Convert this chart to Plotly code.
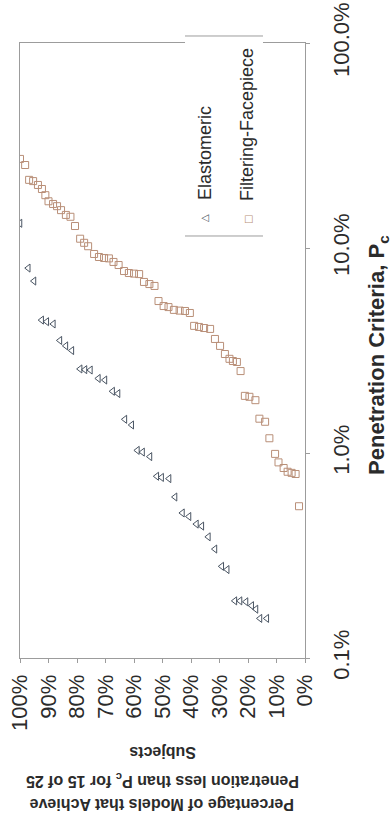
import plotly.graph_objects as go

# Percentage of models (x) achieving penetration below Pc (y, %)
ff_pct = [100, 98.2, 96.8, 95.4, 93.7, 92.3, 91.1, 90.0, 88.4, 87.0,
          85.6, 83.9, 82.3, 80.7, 78.9, 77.5, 76.1, 74.0, 72.3, 70.5,
          68.8, 67.2, 65.4, 63.5, 61.8, 60.0, 58.2, 56.5, 54.6, 52.8,
          51.4, 49.6, 47.9, 46.0, 44.0, 42.1, 40.4, 38.9, 37.2, 35.4,
          33.3, 31.6, 29.8, 28.1, 26.5, 25.3, 23.9, 22.6, 21.1, 19.5,
          17.4, 16.0, 14.0, 12.5, 10.5, 9.3, 7.5, 6.1, 4.7, 3.3, 2.1]
ff_pen = [27.2, 25.4, 21.5, 21.2, 20.3, 19.4, 18.1, 16.9, 16.4, 16.0,
          15.3, 14.5, 14.2, 12.8, 11.1, 10.6, 10.2, 9.35, 9.04, 8.94,
          8.9, 8.55, 8.26, 7.72, 7.55, 7.5, 7.46, 6.83, 6.67, 6.53,
          5.51, 5.21, 5.15, 4.99, 4.95, 4.93, 4.82, 4.17, 4.12, 4.07,
          4.03, 3.60, 3.33, 3.04, 2.88, 2.81, 2.78, 2.51, 1.90, 1.88,
          1.81, 1.47, 1.42, 1.18, 0.99, 0.90, 0.845, 0.81, 0.80, 0.79, 0.55]

el_pct = [100, 97.1, 95.1, 92.4, 90.6, 88.3, 86.0, 83.9, 81.8, 78.9,
          77.2, 75.3, 72.5, 70.2, 67.5, 65.6, 63.2, 60.8, 58.8, 57.0,
          54.4, 52.0, 50.3, 47.7, 45.6, 43.0, 40.7, 38.1, 36.2, 33.9,
          31.6, 29.2, 27.3, 24.6, 22.8, 20.7, 18.7, 17.2, 15.8, 13.4]
el_pen = [13.2, 7.98, 6.90, 4.45, 4.37, 4.26, 3.54, 3.33, 3.16, 2.57,
          2.55, 2.54, 2.31, 2.27, 2.00, 1.95, 1.46, 1.37, 1.03, 1.01,
          0.96, 0.77, 0.76, 0.75, 0.61, 0.51, 0.49, 0.45, 0.44, 0.39,
          0.34, 0.28, 0.27, 0.19, 0.19, 0.188, 0.18, 0.173, 0.156, 0.156]

pct_ticks = [100, 90, 80, 70, 60, 50, 40, 30, 20, 10, 0]
pct_labels = [f"{v}%" for v in pct_ticks]
pen_ticks = [0.1, 1, 10, 100]
pen_labels = ["0.1%", "1.0%", "10.0%", "100.0%"]

series_names = ["Elastomeric", "Filtering-Facepiece"]
el_color = "#4a5563"
ff_color = "#b98f78"
frame_color = "#9c9c9c"
text_color = "#2b2b2b"
FONT = "Liberation Sans, Arial, sans-serif"

fig = go.Figure()
fig.add_trace(go.Scatter(
    x=el_pct, y=el_pen, mode="markers", name=series_names[0],
    marker=dict(symbol="triangle-left-open", size=7, color=el_color,
                line=dict(width=1, color=el_color)),
))
fig.add_trace(go.Scatter(
    x=ff_pct, y=ff_pen, mode="markers", name=series_names[1],
    marker=dict(symbol="square-open", size=7, color=ff_color,
                line=dict(width=1, color=ff_color)),
))

fig.update_xaxes(
    range=[100, 0], tickvals=pct_ticks, ticktext=pct_labels,
    tickangle=-90, tickfont=dict(family=FONT, size=22, color=text_color),
    showline=True, linecolor=frame_color, linewidth=1, mirror=True,
    ticks="outside", ticklen=4, tickcolor=frame_color,
    ticklabelstandoff=3,
    showgrid=False, zeroline=False,
)
fig.update_yaxes(
    type="log", range=[-1, 2], side="right",
    tickvals=pen_ticks, ticktext=pen_labels,
    tickangle=-90, tickfont=dict(family=FONT, size=22, color=text_color),
    showline=True, linecolor=frame_color, linewidth=1, mirror=True,
    ticks="outside", ticklen=4, tickcolor=frame_color,
    ticklabelstandoff=13,
    showgrid=False, zeroline=False,
)

annotations = []
# Axis titles, drawn rotated
annotations.append(dict(
    text="<b>Penetration Criteria, P<sub>c</sub></b>", textangle=-90,
    x=1.256, y=0.4927, xref="paper", yref="paper",
    xanchor="center", yanchor="middle", showarrow=False,
    font=dict(family=FONT, size=22, color=text_color),
))
y_title_lines = ["Percentage of Models that Achieve",
                 "Penetration less than P<sub>c</sub> for 15 of 25",
                 "Subjects"]
for line, py in zip(y_title_lines, [805, 780, 753]):
    annotations.append(dict(
        text=f"<b>{line}</b>", textangle=180,
        x=0.5, y=(658 - py) / 615, xref="paper", yref="paper",
        xanchor="center", yanchor="middle", showarrow=False,
        font=dict(family=FONT, size=16, color=text_color),
    ))

# Legend box contents
annotations.append(dict(
    text=series_names[0], textangle=-90, x=0.649, y=0.8211,
    xref="paper", yref="paper", xanchor="center", yanchor="middle",
    showarrow=False, font=dict(family=FONT, size=18, color=text_color),
))
annotations.append(dict(
    text=series_names[1], textangle=-90, x=0.7965, y=0.8667,
    xref="paper", yref="paper", xanchor="center", yanchor="middle",
    showarrow=False, font=dict(family=FONT, size=18, color=text_color),
))
annotations.append(dict(
    text="\u25B3", textangle=-90, x=0.6456, y=0.7154,
    xref="paper", yref="paper", xanchor="center", yanchor="middle",
    showarrow=False, font=dict(family="DejaVu Sans", size=10, color=el_color),
))
annotations.append(dict(
    text="\u25A1", textangle=0, x=0.80, y=0.7154,
    xref="paper", yref="paper", xanchor="center", yanchor="middle",
    showarrow=False, font=dict(family="DejaVu Sans", size=10, color=ff_color),
))

shapes = [
    dict(type="rect", xref="paper", yref="paper", x0=0.579, x1=0.8526,
         y0=0.6862, y1=1.0114, fillcolor="white", line=dict(width=0),
         layer="above"),
    dict(type="line", xref="paper", yref="paper", x0=0.579, x1=0.8526,
         y0=1.0114, y1=1.0114, line=dict(color=frame_color, width=1),
         layer="above"),
    dict(type="line", xref="paper", yref="paper", x0=0.579, x1=0.8526,
         y0=0.6862, y1=0.6862, line=dict(color=frame_color, width=1),
         layer="above"),
]

fig.update_layout(
    width=392, height=823,
    margin=dict(l=20, r=87, t=43, b=165, autoexpand=False),
    paper_bgcolor="white", plot_bgcolor="white",
    showlegend=False,
    annotations=annotations, shapes=shapes,
)

fig.write_html("out.html")
